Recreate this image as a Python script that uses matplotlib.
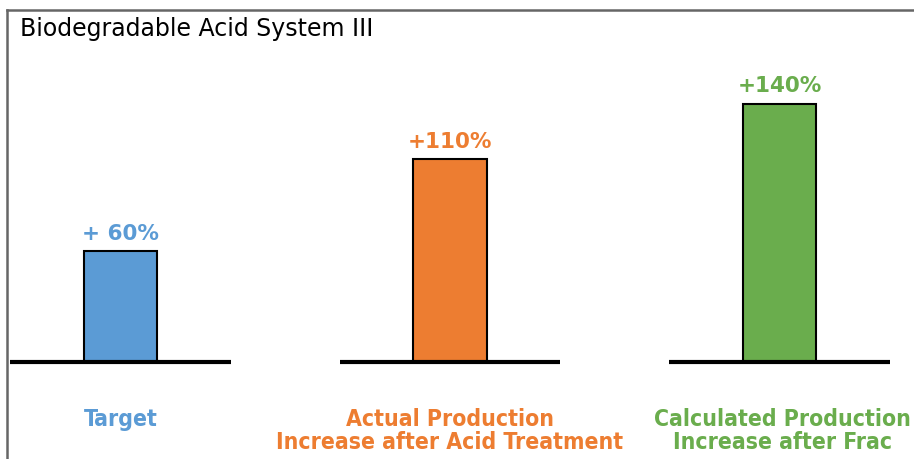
import matplotlib.pyplot as plt
import matplotlib.lines as mlines

# data
categories = ['Target', 'Actual Production\nIncrease after Acid Treatment',
              'Calculated Production\nIncrease after Frac']
values = [60, 110, 140]
value_labels = ['+ 60%', '+110%', '+140%']
colors = ['#5B9BD5', '#ED7D31', '#6AAD4D']
text_colors = ['#5B9BD5', '#ED7D31', '#6AAD4D']

fig = plt.figure(figsize=(9.14, 4.59), dpi=100)
ax = fig.add_axes([0, 0, 1, 1])
# pixel mapping: bar centers at 120.5 + 329.5*i, baseline at 97px from bottom
ax.set_xlim(-120.5 / 329.5, (914 - 120.5) / 329.5)
ax.set_ylim(-97 / 1.845, (459 - 97) / 1.845)
ax.axis('off')

x = list(range(len(values)))
ax.bar(x, values, width=0.222, color=colors, edgecolor='black', linewidth=1.5, zorder=2)

# baseline segments under each bar
for i in x:
    ax.plot([i - 0.335, i + 0.335], [0, 0], color='black', lw=3, solid_capstyle='butt', zorder=3)

for i, v in enumerate(values):
    ax.text(i, v + 4, value_labels[i], ha='center', va='bottom', fontsize=15.5,
            fontweight='bold', color=text_colors[i], family='DejaVu Sans')

for i, c in enumerate(categories):
    ax.text(i + (0.01 if i == 2 else 0), -24.8, c, ha='center', va='top', fontsize=16.5,
            fontweight='bold', color=text_colors[i], linespacing=1.03,
            family='DejaVu Sans', fontstretch='condensed')

ax.text(-0.305, 180.5, 'Biodegradable Acid System III', ha='left', va='center',
        fontsize=17, color='black', family='DejaVu Sans')

# frame lines (left and top) as in the source slide
fig.add_artist(mlines.Line2D([7.5 / 914, 7.5 / 914], [0, 1 - 9.5 / 459], color='#666666', lw=1.8))
fig.add_artist(mlines.Line2D([7.5 / 914, 1], [1 - 9.5 / 459, 1 - 9.5 / 459], color='#666666', lw=1.8))

fig.savefig('out.png', dpi=100)
